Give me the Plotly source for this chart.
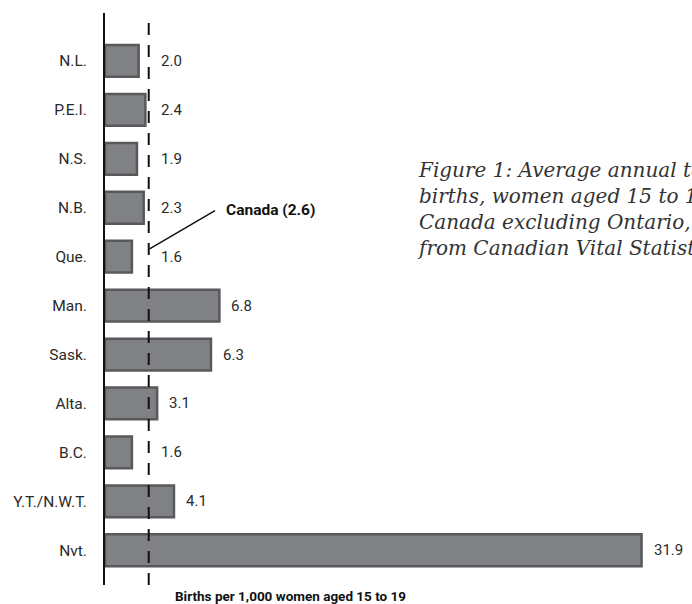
import plotly.graph_objects as go

categories = ["N.L.", "P.E.I.", "N.S.", "N.B.", "Que.", "Man.", "Sask.", "Alta.", "B.C.", "Y.T./N.W.T.", "Nvt."]
values = [2.0, 2.4, 1.9, 2.3, 1.6, 6.8, 6.3, 3.1, 1.6, 4.1, 31.9]
labels = ["2.0", "2.4", "1.9", "2.3", "1.6", "6.8", "6.3", "3.1", "1.6", "4.1", "31.9"]
canada_value = 2.6
canada_label = "Canada (2.6)"
x_title = "Births per 1,000 women aged 15 to 19"
caption_lines = ["Figure 1: Average annual teen",
                 "births, women aged 15 to 19,",
                 "Canada excluding Ontario, 2006",
                 "from Canadian Vital Statistics"]

ypos = list(range(len(categories)))
SANS = "Roboto, DejaVu Sans, sans-serif"
PX_PER_UNIT = 16.82
PLOT_W = 692 - 105

fig = go.Figure()
fig.add_trace(go.Bar(
    x=values, y=ypos, orientation="h", width=0.65,
    marker=dict(color="#808184", line=dict(color="#58595b", width=2.5)),
    hoverinfo="skip",
))

annotations = []
for v, yp, t in zip(values, ypos, labels):
    annotations.append(dict(x=max(v, canada_value), y=yp, xref="x", yref="y", text=t,
                            showarrow=False, xanchor="left", yanchor="middle", xshift=10,
                            font=dict(family=SANS, size=15, color="#2a2a2a")))

annotations.append(dict(x=7.05, y=3.04, xref="x", yref="y", text="<b>" + canada_label + "</b>",
                        showarrow=False, xanchor="left", yanchor="middle",
                        font=dict(family=SANS, size=15.5, color="#111111")))
annotations.append(dict(x=(290 - 105) / PLOT_W, y=-(596 - 585) / 572, xref="paper", yref="paper",
                        text="<b>" + x_title + "</b>", showarrow=False,
                        xanchor="center", yanchor="middle",
                        font=dict(family=SANS, size=13.5, color="#111111")))
annotations.append(dict(x=(415 - 105) / PLOT_W, y=(585 - 209) / 572, xref="paper", yref="paper",
                        text="<i>" + "<br>".join(caption_lines) + "</i>", showarrow=False,
                        align="left", xanchor="left", yanchor="middle",
                        font=dict(family="DejaVu Serif, serif", size=20, color="#333333")))

shapes = [
    dict(type="line", xref="x", yref="paper", x0=canada_value, x1=canada_value, y0=0, y1=1,
         line=dict(color="#111111", width=2, dash="12px,10px")),
    dict(type="line", xref="x", yref="y", x0=canada_value + 0.05, y0=3.84, x1=6.54, y1=3.06,
         line=dict(color="#111111", width=1.5)),
]

fig.update_layout(
    width=692, height=604,
    margin=dict(l=105, r=0, t=13, b=19, autoexpand=False),
    plot_bgcolor="white", paper_bgcolor="white",
    showlegend=False,
    annotations=annotations, shapes=shapes,
    xaxis=dict(range=[0, PLOT_W / PX_PER_UNIT], showgrid=False, zeroline=False,
               showticklabels=False, ticks="", showline=False, automargin=False),
    yaxis=dict(range=[10.71, -0.98], tickvals=ypos, ticktext=categories, showgrid=False,
               zeroline=False, showline=True, linecolor="#111111", linewidth=2,
               ticks="outside", ticklen=13, tickcolor="rgba(0,0,0,0)", automargin=False,
               tickfont=dict(family=SANS, size=15.5, color="#2a2a2a")),
)

fig.write_html("out.html",
               config={"displayModeBar": False},
               post_script="document.body.style.margin='0';document.body.style.overflow='hidden';")
